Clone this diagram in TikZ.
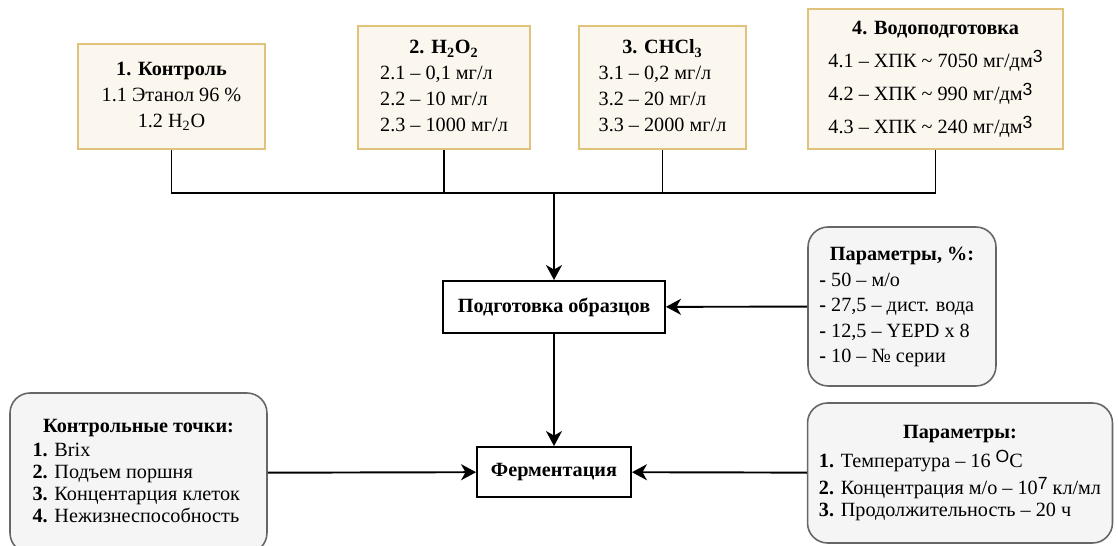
\documentclass[tikz,border=0pt]{standalone}
\usepackage{fontspec}
\setmainfont{Liberation Serif}
\newfontfamily\supfont{Liberation Sans}
\usetikzlibrary{arrows.meta}
\definecolor{creamfill}{HTML}{FBF6EE}
\definecolor{golddraw}{HTML}{E0C27A}
\definecolor{greyfill}{HTML}{F5F5F5}
\definecolor{greydraw}{HTML}{666666}
\newcommand{\upnum}[1]{\raisebox{0.55ex}{\supfont\fontsize{10}{10}\selectfont #1}}
\begin{document}
\begin{tikzpicture}[x=0.02cm, y=-0.02cm, font=\fontsize{11.5}{14.7}\selectfont,
  >={Stealth[length=3mm,width=3.2mm,inset=0.9mm]}]
\tikzstyle{group} = [draw=golddraw, fill=creamfill, line width=1.2pt, inner sep=0pt];
\tikzstyle{stage} = [draw, fill=white, line width=1.1pt, inner sep=0pt];
\tikzstyle{param} = [draw=greydraw, fill=greyfill, rounded corners=0.4cm, line width=0.9pt, inner sep=0pt];
\tikzstyle{link} = [line width=1.1pt];
\useasboundingbox (0,0) rectangle (1118,546);
% groups of samples
\node[group, minimum width=3.74cm, minimum height=2.1cm] (k1) at (171.5,96.5) {\begin{tabular}{@{}c@{}}\textbf{1. Контроль}\\1.1 Этанол 96 \%\\1.2 H\textsubscript{2}O\end{tabular}};
\node[group, minimum width=3.44cm, minimum height=2.46cm] (k2) at (444,87.5) {\begin{tabular}{@{}l@{}}\multicolumn{1}{c}{\textbf{2. H\textsubscript{2}O\textsubscript{2}}}\\2.1 – 0,1 мг/л\\2.2 – 10 мг/л\\2.3 – 1000 мг/л\end{tabular}};
\node[group, minimum width=3.34cm, minimum height=2.46cm] (k3) at (662.5,87.5) {\begin{tabular}{@{}l@{}}\multicolumn{1}{c}{\textbf{3. CHCl\textsubscript{3}}}\\3.1 – 0,2 мг/л\\3.2 – 20 мг/л\\3.3 – 2000 мг/л\end{tabular}};
\node[group, minimum width=5.1cm, minimum height=2.8cm] (k4) at (935.5,79) {\begin{tabular}{@{}l@{}}\multicolumn{1}{c}{\textbf{4. Водоподготовка}}\\[4pt]4.1 – ХПК \textasciitilde{} 7050 мг/дм\upnum{3}\\[4pt]4.2 – ХПК \textasciitilde{} 990 мг/дм\upnum{3}\\[4pt]4.3 – ХПК \textasciitilde{} 240 мг/дм\upnum{3}\end{tabular}};
% stages
\node[stage, minimum width=4.44cm, minimum height=1.04cm] (prep) at (554,307) {\textbf{Подготовка образцов}};
\node[stage, minimum width=3.08cm, minimum height=1cm] (ferm) at (554,472) {\textbf{Ферментация}};
% parameters
\node[param, minimum width=3.76cm, minimum height=3.18cm] (p1) at (902,306.5) {\fontsize{11.5}{14.5}\selectfont\begin{tabular}{@{}l@{}}\multicolumn{1}{c}{\textbf{Параметры, \%:}}\\\textbf{-} 50 – м/о\\\textbf{-} 27,5 – дист. вода\\\textbf{-} 12,5 – YEPD x 8\\\textbf{-} 10 – № серии\end{tabular}};
\node[param, minimum width=5.14cm, minimum height=3.2cm] (cp) at (138.5,473) {\fontsize{11.5}{12.6}\selectfont\begin{tabular}{@{}l@{}}\multicolumn{1}{c}{\textbf{Контрольные точки:}}\\[1pt]\textbf{1.} Brix\\\textbf{2.} Подъем поршня\\\textbf{3.} Концентарция клеток\\\textbf{4.} Нежизнеспособность\end{tabular}};
\node[param, minimum width=6.1cm, minimum height=2.8cm] (p2) at (960,473) {\fontsize{11.5}{12.6}\selectfont\begin{tabular}{@{}l@{}}\multicolumn{1}{c}{\textbf{Параметры:}}\\[3pt]\textbf{1.} Температура – 16 \upnum{O}C\\[2pt]\textbf{2.} Концентрация м/о – 10\upnum{7} кл/мл\\\textbf{3.} Продолжительность – 20 ч\end{tabular}};
% connectors
\coordinate (bus) at (554,193);
\draw[link] (k1.south) |- (bus);
\draw[link] (k4.south) |- (bus);
\draw[link] (k2.south) -- (k2.south |- bus);
\draw[link] (k3.south) -- (k3.south |- bus);
\draw[link, ->] (bus) -- (prep);
\draw[link, ->] (p1) -- (prep);
\draw[link, ->] (prep) -- (ferm);
\draw[link, ->] (cp) -- (ferm);
\draw[link, ->] (p2) -- (ferm);
\end{tikzpicture}
\end{document}
